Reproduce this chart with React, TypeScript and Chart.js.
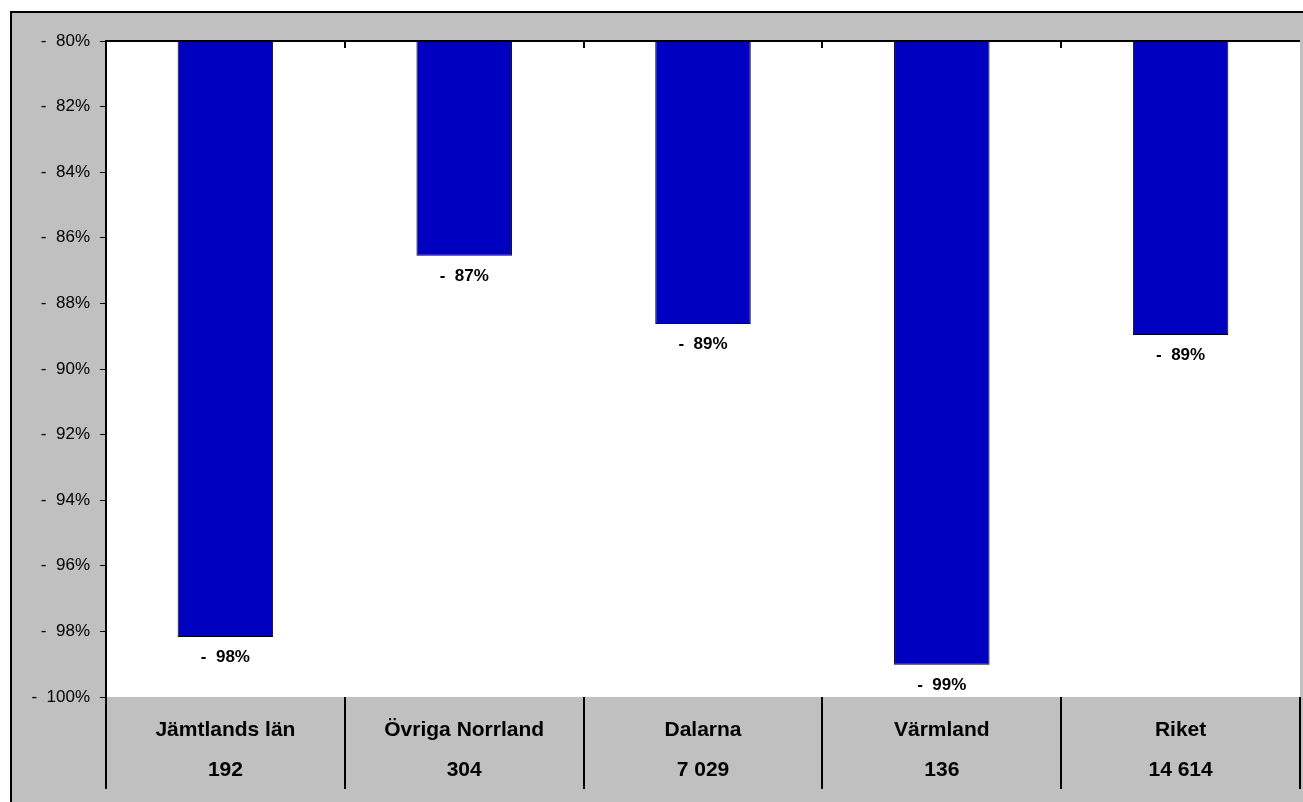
import React, { useEffect, useRef } from "react";
import { Chart, registerables } from "chart.js";

Chart.register(...registerables);

const categories = ["Jämtlands län", "Övriga Norrland", "Dalarna", "Värmland", "Riket"];
const counts = ["192", "304", "7 029", "136", "14 614"];
const values = [-98.17, -86.55, -88.63, -99.02, -88.96];
const yMin = -100;
const yMax = -80;
const yStep = 2;

const FONT = "Arial, 'Liberation Sans', sans-serif";

const fmt = (v: number) => "-  " + Math.round(Math.abs(v)) + "%";

const framePlugin = {
  id: "frame",
  beforeDraw(chart: any) {
    const { ctx, width, height, chartArea } = chart;
    ctx.save();
    ctx.fillStyle = "#ffffff";
    ctx.fillRect(0, 0, width, height);
    ctx.fillStyle = "#c0c0c0";
    ctx.fillRect(10, 11, width - 10, height - 11);
    ctx.strokeStyle = "#000";
    ctx.lineWidth = 2;
    ctx.beginPath();
    ctx.moveTo(10, 12);
    ctx.lineTo(width, 12);
    ctx.moveTo(11, 11);
    ctx.lineTo(11, height);
    ctx.stroke();
    ctx.fillStyle = "#ffffff";
    ctx.fillRect(chartArea.left, chartArea.top, chartArea.right - chartArea.left, chartArea.bottom - chartArea.top);
    ctx.restore();
  },
  afterDraw(chart: any) {
    const { ctx, chartArea } = chart;
    const xs = chart.scales.x;
    ctx.save();
    ctx.strokeStyle = "#000";
    ctx.lineWidth = 2;
    ctx.beginPath();
    ctx.moveTo(chartArea.left, chartArea.top);
    ctx.lineTo(chartArea.right, chartArea.top);
    ctx.stroke();
    ctx.beginPath();
    const n = categories.length;
    for (let i = 1; i < n; i++) {
      const bx = (xs.getPixelForTick(i - 1) + xs.getPixelForTick(i)) / 2;
      ctx.moveTo(Math.round(bx), chartArea.top);
      ctx.lineTo(Math.round(bx), chartArea.top + 7);
    }
    ctx.stroke();
    ctx.fillStyle = "#000";
    ctx.textAlign = "center";
    ctx.textBaseline = "middle";
    ctx.font = "bold 21px " + FONT;
    for (let i = 0; i < n; i++) {
      const x = xs.getPixelForTick(i);
      ctx.fillText(categories[i], x, chartArea.bottom + 33);
      ctx.fillText(counts[i], x, chartArea.bottom + 73);
    }
    const meta = chart.getDatasetMeta(0);
    ctx.font = "bold 17px " + FONT;
    meta.data.forEach((bar: any, i: number) => {
      ctx.fillText(fmt(values[i]), bar.x, bar.y + 20);
    });
    ctx.restore();
  },
};

export default function App() {
  const ref = useRef<HTMLCanvasElement | null>(null);
  useEffect(() => {
    if (!ref.current) return;
    const chart = new Chart(ref.current, {
      type: "bar",
      data: {
        labels: categories,
        datasets: [
          {
            data: values,
            backgroundColor: "#0000c0",
            borderColor: "#000000",
            borderWidth: 1,
            barPercentage: 0.4,
            categoryPercentage: 1,
          },
        ],
      },
      plugins: [framePlugin],
      options: {
        animation: false,
        responsive: false,
        layout: { padding: { top: 41, right: 3, left: 0, bottom: 0 } },
        plugins: { legend: { display: false }, tooltip: { enabled: false }, title: { display: false } },
        scales: {
          x: {
            offset: true,
            grid: {
              offset: true,
              drawOnChartArea: false,
              drawTicks: true,
              tickLength: 92,
              color: "#000",
              lineWidth: 2,
            },
            border: { display: false },
            ticks: { display: false },
            afterFit: (s: any) => {
              s.height = 105;
            },
          },
          y: {
            min: yMin,
            max: yMax,
            ticks: {
              stepSize: yStep,
              color: "#000",
              font: { family: FONT, size: 17 },
              padding: 10,
              callback: (v: any) => "-  " + Math.abs(Number(v)) + "%",
            },
            grid: { drawOnChartArea: false, drawTicks: true, tickLength: 6, color: "#000", lineWidth: 1 },
            border: { display: true, color: "#000", width: 2 },
            afterFit: (s: any) => {
              s.width = 106;
            },
          },
        },
      },
    });
    return () => chart.destroy();
  }, []);
  return (
    <div style={{ position: "fixed", left: 0, top: 0, width: 1303, height: 802 }}>
      <canvas ref={ref} width={1303} height={802} style={{ display: "block", width: 1303, height: 802 }} />
    </div>
  );
}
